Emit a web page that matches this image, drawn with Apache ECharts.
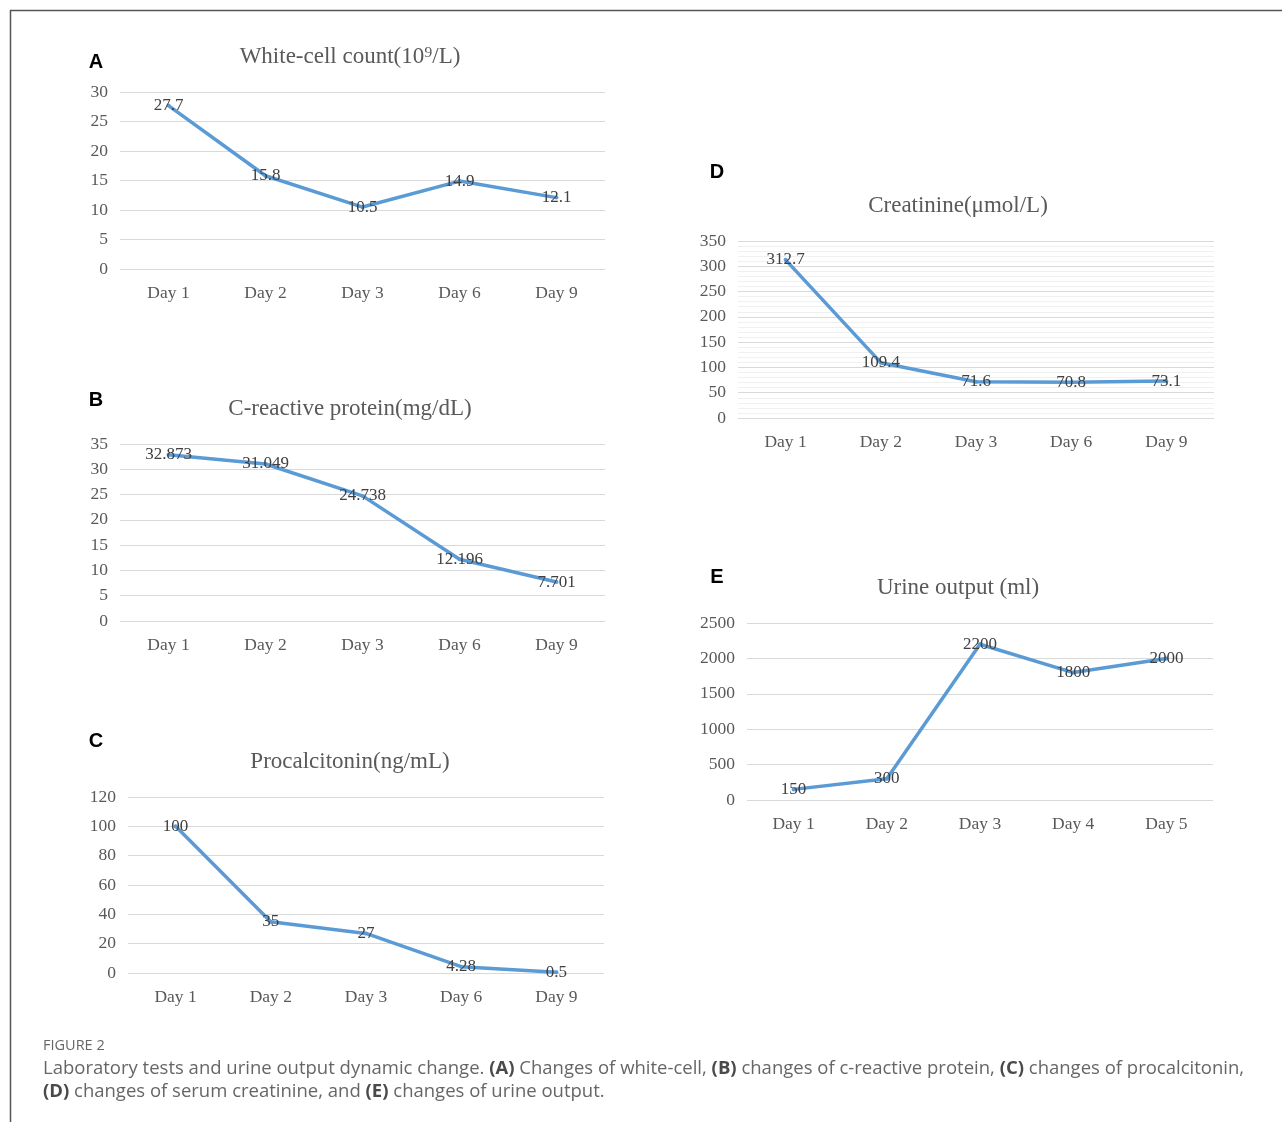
<!DOCTYPE html>
<html>
<head>
<meta charset="utf-8">
<script src="https://cdn.jsdelivr.net/npm/echarts@6/dist/echarts.min.js"></script>
<style>
html, body { margin: 0; padding: 0; background: #fff; }
#main { width: 1282px; height: 1122px; }
</style>
</head>
<body>
<div id="main"></div>
<script>
// categories
var days = ['Day 1', 'Day 2', 'Day 3', 'Day 6', 'Day 9'];
var daysUrine = ['Day 1', 'Day 2', 'Day 3', 'Day 4', 'Day 5'];

// values
var wbc = [27.7, 15.8, 10.5, 14.9, 12.1];
var crp = [32.873, 31.049, 24.738, 12.196, 7.701];
var pct = [100, 35, 27, 4.28, 0.5];
var creatinine = [312.7, 109.4, 71.6, 70.8, 73.1];
var urine = [150, 300, 2200, 1800, 2000];

// axis ranges [max, interval]
var wbcAxis = [30, 5];
var crpAxis = [35, 5];
var pctAxis = [120, 20];
var creAxis = [350, 50];
var urineAxis = [2500, 500];

var serif = 'Liberation Serif';
var blue = '#5b9bd5';

var dom = document.getElementById('main');
var myChart = echarts.init(dom);

// panel boxes: left, top, width, height
var panels = [
    {box: [120, 92, 485, 177], cats: days, data: wbc, ax: wbcAxis, title: 'White-cell count(10⁹/L)', tx: 350, ty: 57, letter: 'A', lx: 96, ly: 62},
    {box: [120, 444, 485, 177], cats: days, data: crp, ax: crpAxis, title: 'C-reactive protein(mg/dL)', tx: 350, ty: 409, letter: 'B', lx: 96, ly: 400},
    {box: [128, 797, 476, 176], cats: days, data: pct, ax: pctAxis, title: 'Procalcitonin(ng/mL)', tx: 350, ty: 762, letter: 'C', lx: 96, ly: 741},
    {box: [738, 241, 476, 177], cats: days, data: creatinine, ax: creAxis, title: 'Creatinine(μmol/L)', tx: 958, ty: 206, letter: 'D', lx: 717, ly: 172, minor: true},
    {box: [747, 623, 466, 177], cats: daysUrine, data: urine, ax: urineAxis, title: 'Urine output (ml)', tx: 958, ty: 588, letter: 'E', lx: 717, ly: 577}
];

var grid = [], xAxis = [], yAxis = [], series = [], graphic = [];

panels.forEach(function (p, i) {
    grid.push({left: p.box[0], top: p.box[1], width: p.box[2], height: p.box[3], containLabel: false});
    xAxis.push({
        type: 'category', gridIndex: i, data: p.cats, boundaryGap: true,
        axisLine: {show: false}, axisTick: {show: false},
        axisLabel: {color: '#595959', fontFamily: serif, fontSize: 17.5, margin: 15}
    });
    yAxis.push({
        type: 'value', gridIndex: i, min: 0, max: p.ax[0], interval: p.ax[1],
        axisLine: {show: false}, axisTick: {show: false},
        axisLabel: {color: '#595959', fontFamily: serif, fontSize: 17.5, margin: 12,
            formatter: function (v) { return String(v); }},
        splitLine: {lineStyle: {color: '#d9d9d9', width: 1}},
        minorTick: {show: false, splitNumber: 5},
        minorSplitLine: {show: !!p.minor, lineStyle: {color: '#f0f0f0', width: 1}}
    });
    series.push({
        type: 'line', xAxisIndex: i, yAxisIndex: i, data: p.data,
        symbol: 'circle', symbolSize: 4,
        itemStyle: {color: blue},
        lineStyle: {color: blue, width: 3.5},
        label: {show: true, position: 'inside', color: '#404040', fontFamily: serif, fontSize: 17, formatter: '{c}'},
        emphasis: {disabled: true},
        z: 3
    });
    // chart title
    graphic.push({
        type: 'text', x: p.tx, y: p.ty,
        style: {text: p.title, fill: '#595959', font: '23px "Liberation Serif"', textAlign: 'center', textVerticalAlign: 'middle'}
    });
    // panel letter
    graphic.push({
        type: 'text', x: p.lx, y: p.ly,
        style: {text: p.letter, fill: '#000', font: 'bold 20px "Liberation Sans"', textAlign: 'center', textVerticalAlign: 'middle'}
    });
});

// frame
graphic.push({type: 'line', shape: {x1: 10, y1: 10.5, x2: 1282, y2: 10.5}, style: {stroke: '#555', lineWidth: 1.5}});
graphic.push({type: 'line', shape: {x1: 10.5, y1: 10, x2: 10.5, y2: 1122}, style: {stroke: '#555', lineWidth: 1.5}});

// caption
graphic.push({
    type: 'text', x: 43, y: 1046,
    style: {text: 'FIGURE 2', fill: '#666', font: '14.5px "Open Sans"', textVerticalAlign: 'middle'}
});
var capRich = {
    n: {fill: '#666', font: '18.5px "Open Sans"'},
    b: {fill: '#4a4a4a', font: 'bold 18.5px "Open Sans"'}
};
graphic.push({
    type: 'text', x: 43, y: 1069,
    style: {
        text: '{n|Laboratory tests and urine output dynamic change. }{b|(A)}{n| Changes of white-cell, }{b|(B)}{n| changes of c-reactive protein, }{b|(C)}{n| changes of procalcitonin,}',
        rich: capRich, textVerticalAlign: 'middle'
    }
});
graphic.push({
    type: 'text', x: 43, y: 1092,
    style: {
        text: '{b|(D)}{n| changes of serum creatinine, and }{b|(E)}{n| changes of urine output.}',
        rich: capRich, textVerticalAlign: 'middle'
    }
});

var option = {
    backgroundColor: '#fff',
    animation: false,
    grid: grid,
    xAxis: xAxis,
    yAxis: yAxis,
    series: series,
    graphic: graphic
};
if (option && typeof option === "object") {
    myChart.setOption(option, true);
}
</script>
</body>
</html>
